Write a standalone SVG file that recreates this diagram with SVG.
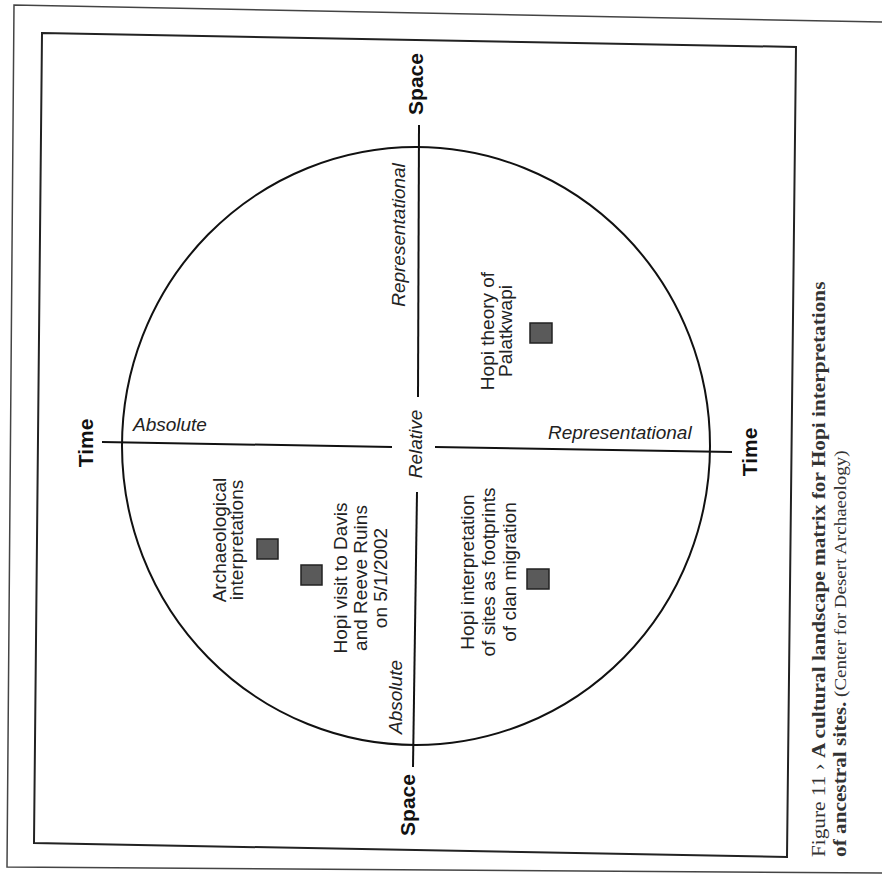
<svg xmlns="http://www.w3.org/2000/svg" width="882" height="878" viewBox="0 0 882 878">
<style>
.ln{stroke:#111;stroke-width:2;fill:none;stroke-linecap:butt}
.fr{stroke:#222;stroke-width:2;fill:none}
.fr2{stroke:#444;stroke-width:1.5;fill:none}
.ax{font-family:"Liberation Sans",Arial,sans-serif;font-weight:bold;font-size:21px;fill:#111}
.it{font-family:"Liberation Sans",Arial,sans-serif;font-style:italic;font-size:19px;fill:#222}
.nt{font-family:"Liberation Sans",Arial,sans-serif;font-size:19px;fill:#222}
.sq{fill:#5a5a5a;stroke:#222;stroke-width:1.5}
.cap{font-family:"Liberation Serif","Times New Roman",serif;font-size:19px;fill:#333}
</style>
<rect width="882" height="878" fill="#fff"/>
<g id="page-frame">
<polyline class="fr2" points="882,22 14,5 7,867 882,873"/>
<polygon class="fr" points="42,33 796,47 787,857 34,843"/>
</g>
<g id="connectors">
<ellipse class="ln" cx="416" cy="446" rx="294" ry="299"/>
<line class="ln" x1="419" y1="125" x2="418" y2="397"/>
<line class="ln" x1="417" y1="492" x2="413" y2="767"/>
<line class="ln" x1="102" y1="442" x2="392" y2="447"/>
<line class="ln" x1="435" y1="447" x2="732" y2="452"/>
</g>
<g id="axis-labels">
<text class="ax" text-anchor="middle" transform="translate(423,84) rotate(-90)">Space</text>
<text class="ax" text-anchor="middle" transform="translate(415,805) rotate(-90)">Space</text>
<text class="ax" text-anchor="middle" transform="translate(93,443) rotate(-90)">Time</text>
<text class="ax" text-anchor="middle" transform="translate(757,452) rotate(-90)">Time</text>
<text class="it" x="133" y="431">Absolute</text>
<text class="it" x="548" y="439">Representational</text>
<text class="it" text-anchor="middle" transform="translate(405,235) rotate(-90)">Representational</text>
<text class="it" text-anchor="middle" transform="translate(422,444) rotate(-90)">Relative</text>
<text class="it" text-anchor="middle" transform="translate(402,697) rotate(-90)">Absolute</text>
</g>
<g id="node-palatkwapi">
<rect class="sq" x="530" y="323" width="22" height="20"/>
<text class="nt" text-anchor="middle" transform="translate(494,331) rotate(-90)"><tspan x="0" y="0">Hopi theory of</tspan><tspan x="0" y="18">Palatkwapi</tspan></text>
</g>
<g id="node-archaeological">
<rect class="sq" x="257" y="539" width="21" height="20"/>
<text class="nt" text-anchor="middle" transform="translate(226,540) rotate(-90)"><tspan x="0" y="0">Archaeological</tspan><tspan x="0" y="17">interpretations</tspan></text>
</g>
<g id="node-hopi-visit">
<rect class="sq" x="301" y="565" width="21" height="20"/>
<text class="nt" text-anchor="middle" transform="translate(347,578) rotate(-90)"><tspan x="0" y="0">Hopi visit to Davis</tspan><tspan x="0" y="20">and Reeve Ruins</tspan><tspan x="0" y="40">on 5/1/2002</tspan></text>
</g>
<g id="node-clan-migration">
<rect class="sq" x="527" y="569" width="22" height="20"/>
<text class="nt" text-anchor="middle" transform="translate(474,572) rotate(-90)"><tspan x="0" y="0">Hopi interpretation</tspan><tspan x="0" y="21">of sites as footprints</tspan><tspan x="0" y="42">of clan migration</tspan></text>
</g>
<g id="caption">
<text class="cap" transform="translate(825,857) rotate(-90) scale(1.12,1)">Figure 11 › <tspan font-weight="bold">A cultural landscape matrix for Hopi interpretations</tspan></text>
<text class="cap" transform="translate(846,857) rotate(-90) scale(1.12,1)"><tspan font-weight="bold">of ancestral sites.</tspan><tspan font-size="17"> (Center for Desert Archaeology)</tspan></text>
</g>
</svg>
